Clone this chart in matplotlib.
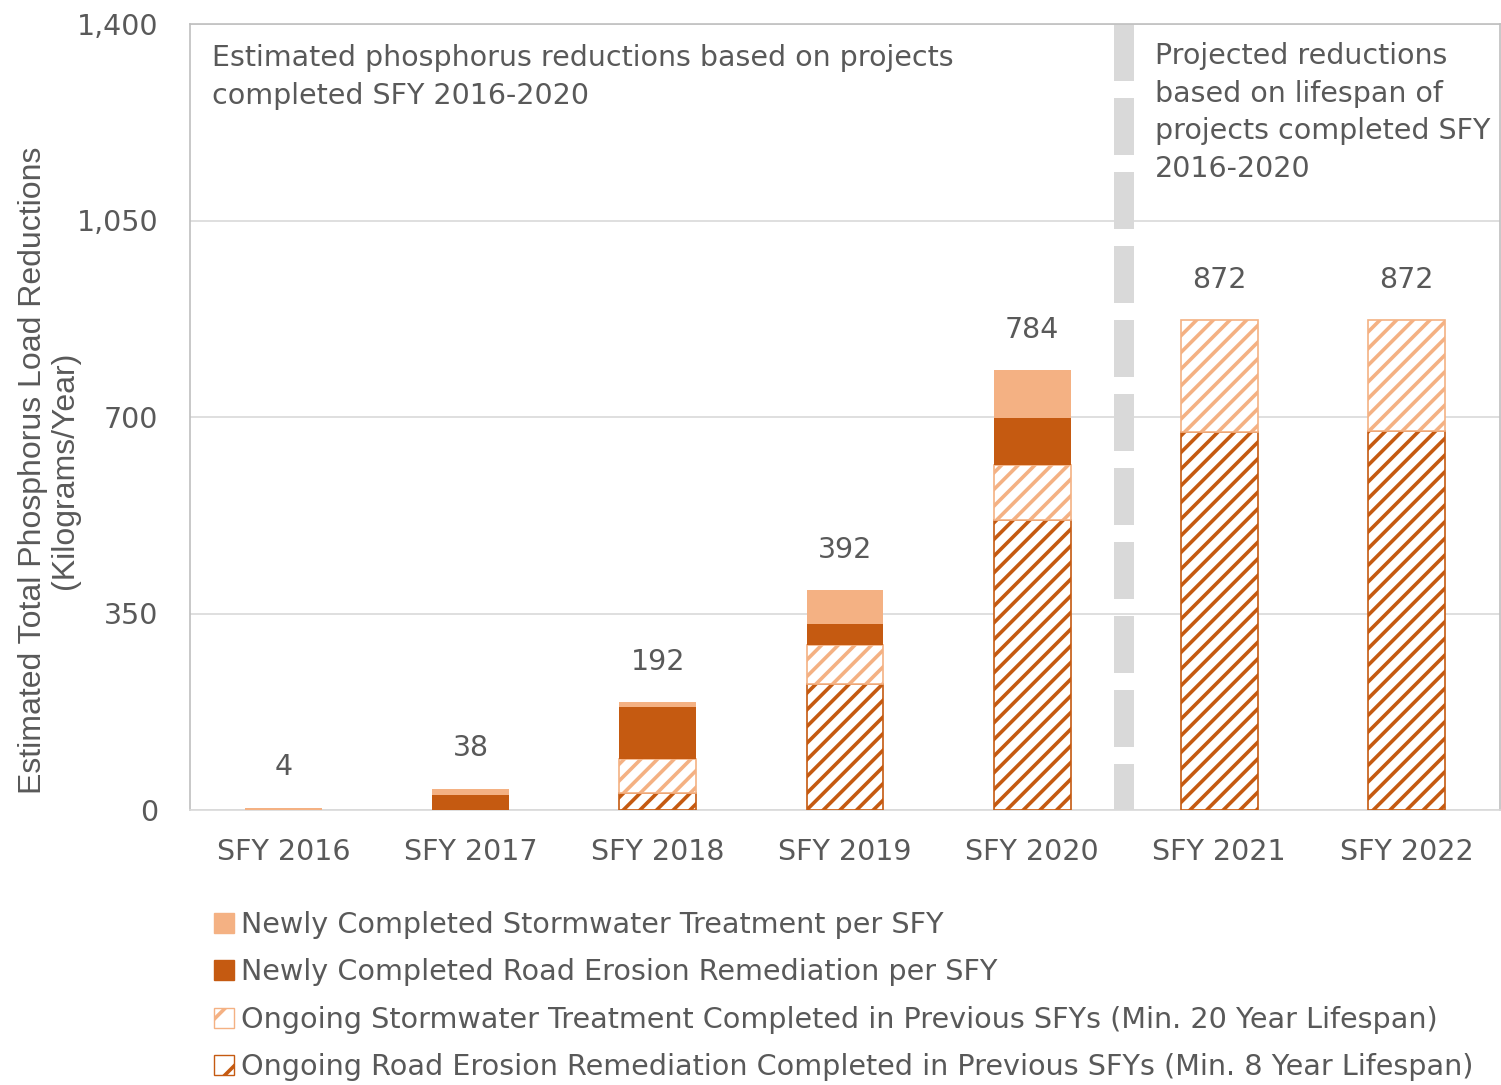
import matplotlib
matplotlib.use('Agg')
import matplotlib.pyplot as plt
import numpy as np
from matplotlib.patches import Patch

years = ['SFY 2016', 'SFY 2017', 'SFY 2018', 'SFY 2019', 'SFY 2020', 'SFY 2021', 'SFY 2022']
ongoing_road = [0, 0, 30, 224, 517, 673, 675]
ongoing_storm = [0, 0, 61, 70, 97, 199, 197]
new_road = [0, 26, 93, 37, 84, 0, 0]
new_storm = [4, 12, 8, 61, 86, 0, 0]
totals = [4, 38, 192, 392, 784, 872, 872]

legend_labels = [
    'Newly Completed Stormwater Treatment per SFY',
    'Newly Completed Road Erosion Remediation per SFY',
    'Ongoing Stormwater Treatment Completed in Previous SFYs (Min. 20 Year Lifespan)',
    'Ongoing Road Erosion Remediation Completed in Previous SFYs (Min. 8 Year Lifespan)',
]

light = '#F4B183'
dark = '#C55A11'
grey_txt = '#595959'

plt.rcParams['font.family'] = ['DejaVu Sans']
plt.rcParams['hatch.linewidth'] = 2.6

fig = plt.figure(figsize=(15.01, 10.85), dpi=100)
ax = fig.add_axes([190 / 1501, 1 - 810 / 1085, 1310 / 1501, 786 / 1085])

x = np.arange(len(years))
w = 0.41
b1 = np.array(ongoing_road)
b2 = b1 + np.array(ongoing_storm)
b3 = b2 + np.array(new_road)

ax.bar(x, ongoing_road, w, color='white', edgecolor=dark, hatch='//', linewidth=1.2, zorder=3)
ax.bar(x, ongoing_storm, w, bottom=b1, color='white', edgecolor=light, hatch='//', linewidth=1.2, zorder=3)
ax.bar(x, new_road, w, bottom=b2, color=dark, edgecolor=dark, linewidth=0, zorder=3)
ax.bar(x, new_storm, w, bottom=b3, color=light, edgecolor=light, linewidth=0, zorder=3)

for i, t in enumerate(totals):
    ax.annotate(str(t), (x[i], t), xytext=(0, 29), textcoords='offset points',
                ha='center', va='center', fontsize=20.5, color=grey_txt)

# dashed separator between actual and projected
ax.plot([4.49, 4.49], [1400, 0], color='#D9D9D9', linewidth=14.4,
        dashes=(2.85, 0.85), solid_capstyle='butt', dash_capstyle='butt', zorder=2)

ax.set_xlim(-0.5, 6.5)
ax.set_ylim(0, 1400)
ax.set_yticks([0, 350, 700, 1050, 1400])
ax.set_yticklabels(['0', '350', '700', '1,050', '1,400'])
ax.set_xticks(x)
ax.set_xticklabels(years)
ax.tick_params(axis='both', length=0, labelsize=20.5, colors=grey_txt)
ax.tick_params(axis='y', pad=23)
ax.tick_params(axis='x', pad=20)
ax.grid(axis='y', color='#D9D9D9', linewidth=1.2, zorder=0)
ax.set_axisbelow(True)
for s in ax.spines.values():
    s.set_color('#BFBFBF')
    s.set_linewidth(1.2)
ax.spines['bottom'].set_color('#D9D9D9')

ax.text(0.017, 0.974, 'Estimated phosphorus reductions based on projects\ncompleted SFY 2016-2020',
        transform=ax.transAxes, ha='left', va='top', fontsize=20.5, color=grey_txt, linespacing=1.45)
ax.text(0.7366, 0.977, 'Projected reductions\nbased on lifespan of\nprojects completed SFY\n2016-2020',
        transform=ax.transAxes, ha='left', va='top', fontsize=20.5, color=grey_txt, linespacing=1.44)

fig.text(0.0326, 0.5668, 'Estimated Total Phosphorus Load Reductions\n(Kilograms/Year)',
         rotation=90, ha='center', va='center', multialignment='center', linespacing=1.1,
         fontsize=23, color=grey_txt, family=['Liberation Sans Narrow', 'Liberation Sans', 'DejaVu Sans'])

handles = [
    Patch(facecolor=light, edgecolor=light),
    Patch(facecolor=dark, edgecolor=dark),
    Patch(facecolor='white', edgecolor=light, hatch='/'),
    Patch(facecolor='white', edgecolor=dark, hatch='/'),
]
leg = fig.legend(handles, legend_labels, loc='upper left', bbox_to_anchor=(214 / 1501, 1 - 911 / 1085),
                 frameon=False, fontsize=20.6, handlelength=0.7, handleheight=0.7,
                 handletextpad=0.25, labelspacing=0.68, borderaxespad=0, borderpad=0)
for t in leg.get_texts():
    t.set_color(grey_txt)

fig.savefig('out.png', dpi=100)
